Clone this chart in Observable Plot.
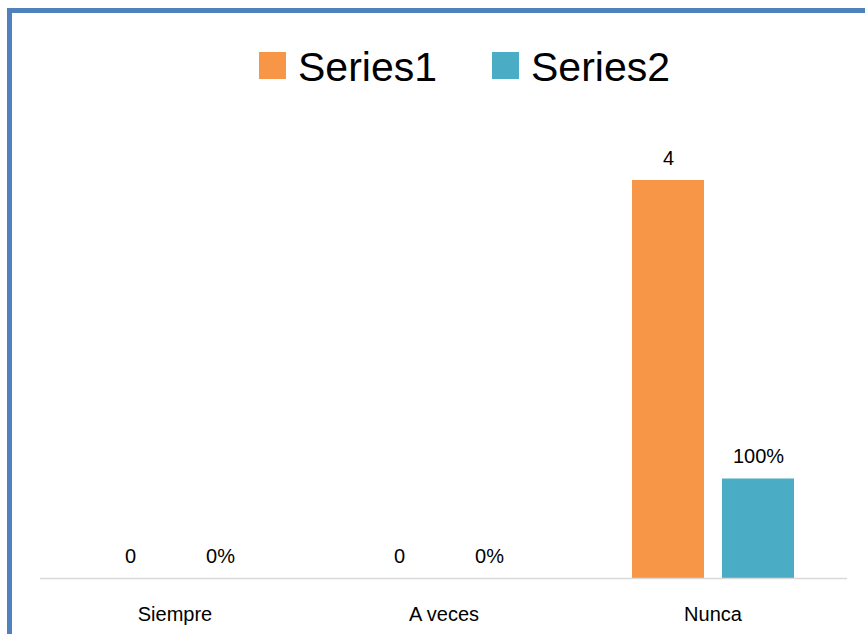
<!DOCTYPE html>
<html><head><meta charset="utf-8">
<script src="https://cdn.jsdelivr.net/npm/d3@7"></script>
<script src="https://cdn.jsdelivr.net/npm/@observablehq/plot@0.6"></script>
<style>
body{margin:0;background:#fff;font-family:"Liberation Sans",Arial,sans-serif;}
#wrap{position:relative;width:865px;height:634px;overflow:hidden;background:#fff;}
#frame{position:absolute;left:7px;top:8px;width:1000px;height:1000px;border-top:5px solid #4f81bd;border-left:5px solid #4f81bd;pointer-events:none;z-index:5;}
#legend{position:relative;height:110px;}
.sw{position:absolute;top:52px;width:27px;height:27px;}
.lt{position:absolute;top:47px;font-size:41px;line-height:41px;color:#000;white-space:nowrap;}
</style>
</head><body>
<div id="wrap">
<div id="frame"></div>
<div id="legend"></div>
<div id="chart"></div>
</div>
<script>
const categories = ["Siempre", "A veces", "Nunca"];
const seriesNames = ["Series1", "Series2"];
const series1 = [0, 0, 4];
const series2 = [0, 0, 1];
const series1Labels = ["0", "0", "4"];
const series2Labels = ["0%", "0%", "100%"];
const colors = ["#f79646", "#4bacc6"];

const rows = [];
categories.forEach((c, i) => {
  rows.push({category: c, series: seriesNames[0], value: series1[i], label: series1Labels[i]});
  rows.push({category: c, series: seriesNames[1], value: series2[i], label: series2Labels[i]});
});

// legend
const legend = document.getElementById("legend");
const legendPos = [[259, 298], [492, 531]];
seriesNames.forEach((s, i) => {
  const sw = document.createElement("div");
  sw.className = "sw";
  sw.style.left = legendPos[i][0] + "px";
  sw.style.background = colors[i];
  legend.appendChild(sw);
  const t = document.createElement("div");
  t.className = "lt";
  t.style.left = legendPos[i][1] + "px";
  t.textContent = s;
  legend.appendChild(t);
});

const chart = Plot.plot({
  width: 865,
  height: 524,
  marginLeft: 39,
  marginRight: 18,
  marginTop: 70,
  marginBottom: 56,
  style: {background: "none", fontFamily: "'Liberation Sans', Arial, sans-serif", fontSize: "20px", color: "#000"},
  fx: {domain: categories, padding: 0, label: null, tickSize: 0, tickPadding: 28, axis: "bottom"},
  x: {domain: seriesNames, axis: null, paddingInner: 0.2, paddingOuter: 0.594},
  y: {domain: [0, 4], axis: null},
  color: {domain: seriesNames, range: colors},
  marks: [
    Plot.barY(rows, {fx: "category", x: "series", y: "value", fill: "series"}),
    Plot.ruleY([0], {stroke: "#d9d9d9", strokeWidth: 1.5}),
    Plot.text(rows, {fx: "category", x: "series", y: "value", text: "label", dy: -16, lineAnchor: "bottom", fill: "#000", fontSize: 20})
  ]
});
document.getElementById("chart").appendChild(chart);
</script>
</body></html>
